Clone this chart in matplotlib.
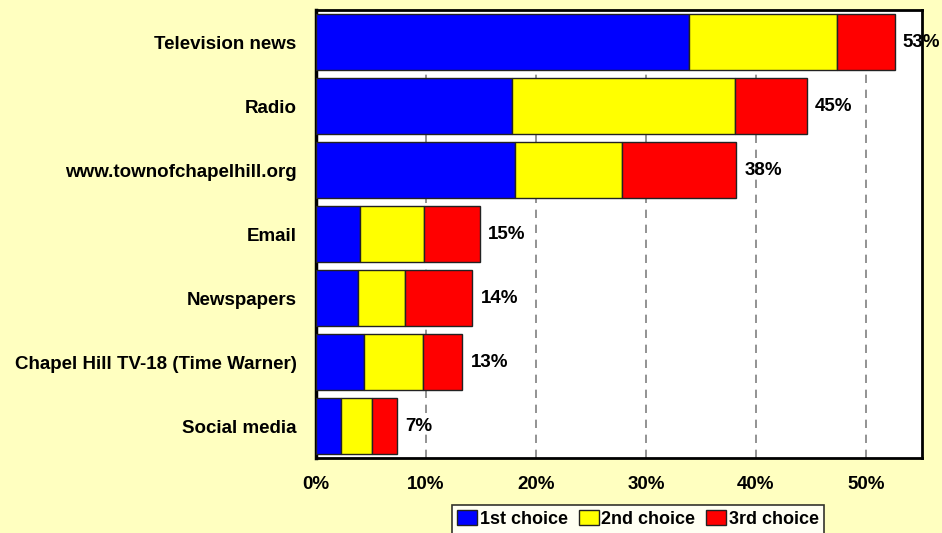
import matplotlib
matplotlib.use("Agg")
import matplotlib.pyplot as plt
import numpy as np

plt.rcParams['font.family'] = ['Liberation Sans', 'DejaVu Sans']

categories = ["Television news", "Radio", "www.townofchapelhill.org", "Email",
              "Newspapers", "Chapel Hill TV-18 (Time Warner)", "Social media"]
first_choice = [33.9, 17.8, 18.1, 4.0, 3.8, 4.4, 2.3]
second_choice = [13.5, 20.3, 9.7, 5.8, 4.3, 5.3, 2.8]
third_choice = [5.2, 6.5, 10.4, 5.1, 6.1, 3.6, 2.3]
series_names = ["1st choice", "2nd choice", "3rd choice"]
series_colors = ["#0000FF", "#FFFF00", "#FF0000"]
x_ticks = [0, 10, 20, 30, 40, 50]

fig = plt.figure(figsize=(9.42, 5.33), dpi=100)
fig.patch.set_facecolor("#FFFFC0")
ax = fig.add_axes([316 / 942, 1 - 458 / 533, 606 / 942, 448 / 533])
ax.set_facecolor("white")

y = np.arange(len(categories))
left = np.zeros(len(categories))
handles = []
for vals, name, col in zip([first_choice, second_choice, third_choice], series_names, series_colors):
    h = ax.barh(y, vals, left=left, height=0.86, color=col, edgecolor="#222222",
                linewidth=1.0, label=name, zorder=3)
    handles.append(h)
    left = left + np.array(vals)

for yi, tot in zip(y, left):
    ax.text(tot + 0.75, yi, f"{tot:.0f}%", va="center", ha="left",
            fontsize=13.5, fontweight="bold", zorder=4, clip_on=False)

ax.set_xlim(0, 55.1)
ax.set_ylim(len(categories) - 0.5, -0.5)
ax.set_xticks(x_ticks)
ax.set_xticklabels([f"{t}%" for t in x_ticks], fontsize=13.5, fontweight="bold")
ax.set_yticks(y)
ax.set_yticklabels(categories, fontsize=13.5, fontweight="bold")
ax.tick_params(axis="both", length=0)
ax.tick_params(axis="y", pad=14)
ax.tick_params(axis="x", pad=13)

for t in x_ticks[1:]:
    ax.axvline(t, color="#808080", linestyle=(0, (5, 4)), linewidth=1.2, zorder=1)

for side, sp in ax.spines.items():
    sp.set_color("black")
    sp.set_linewidth(2.0)
ax.spines["left"].set_linewidth(2.5)

leg = fig.legend(handles=handles, labels=series_names, loc="upper left",
                 bbox_to_anchor=(452 / 942, 1 - 505 / 533), ncol=3,
                 prop={"weight": "bold", "size": 13}, frameon=True, fancybox=False,
                 handlelength=1.1, handleheight=0.9, handletextpad=0.15,
                 columnspacing=0.6, borderpad=0.3, borderaxespad=0)
leg.get_frame().set_edgecolor("black")
leg.get_frame().set_linewidth(1.2)
leg.get_frame().set_facecolor("white")

fig.savefig("out.png", dpi=100, facecolor=fig.get_facecolor())
